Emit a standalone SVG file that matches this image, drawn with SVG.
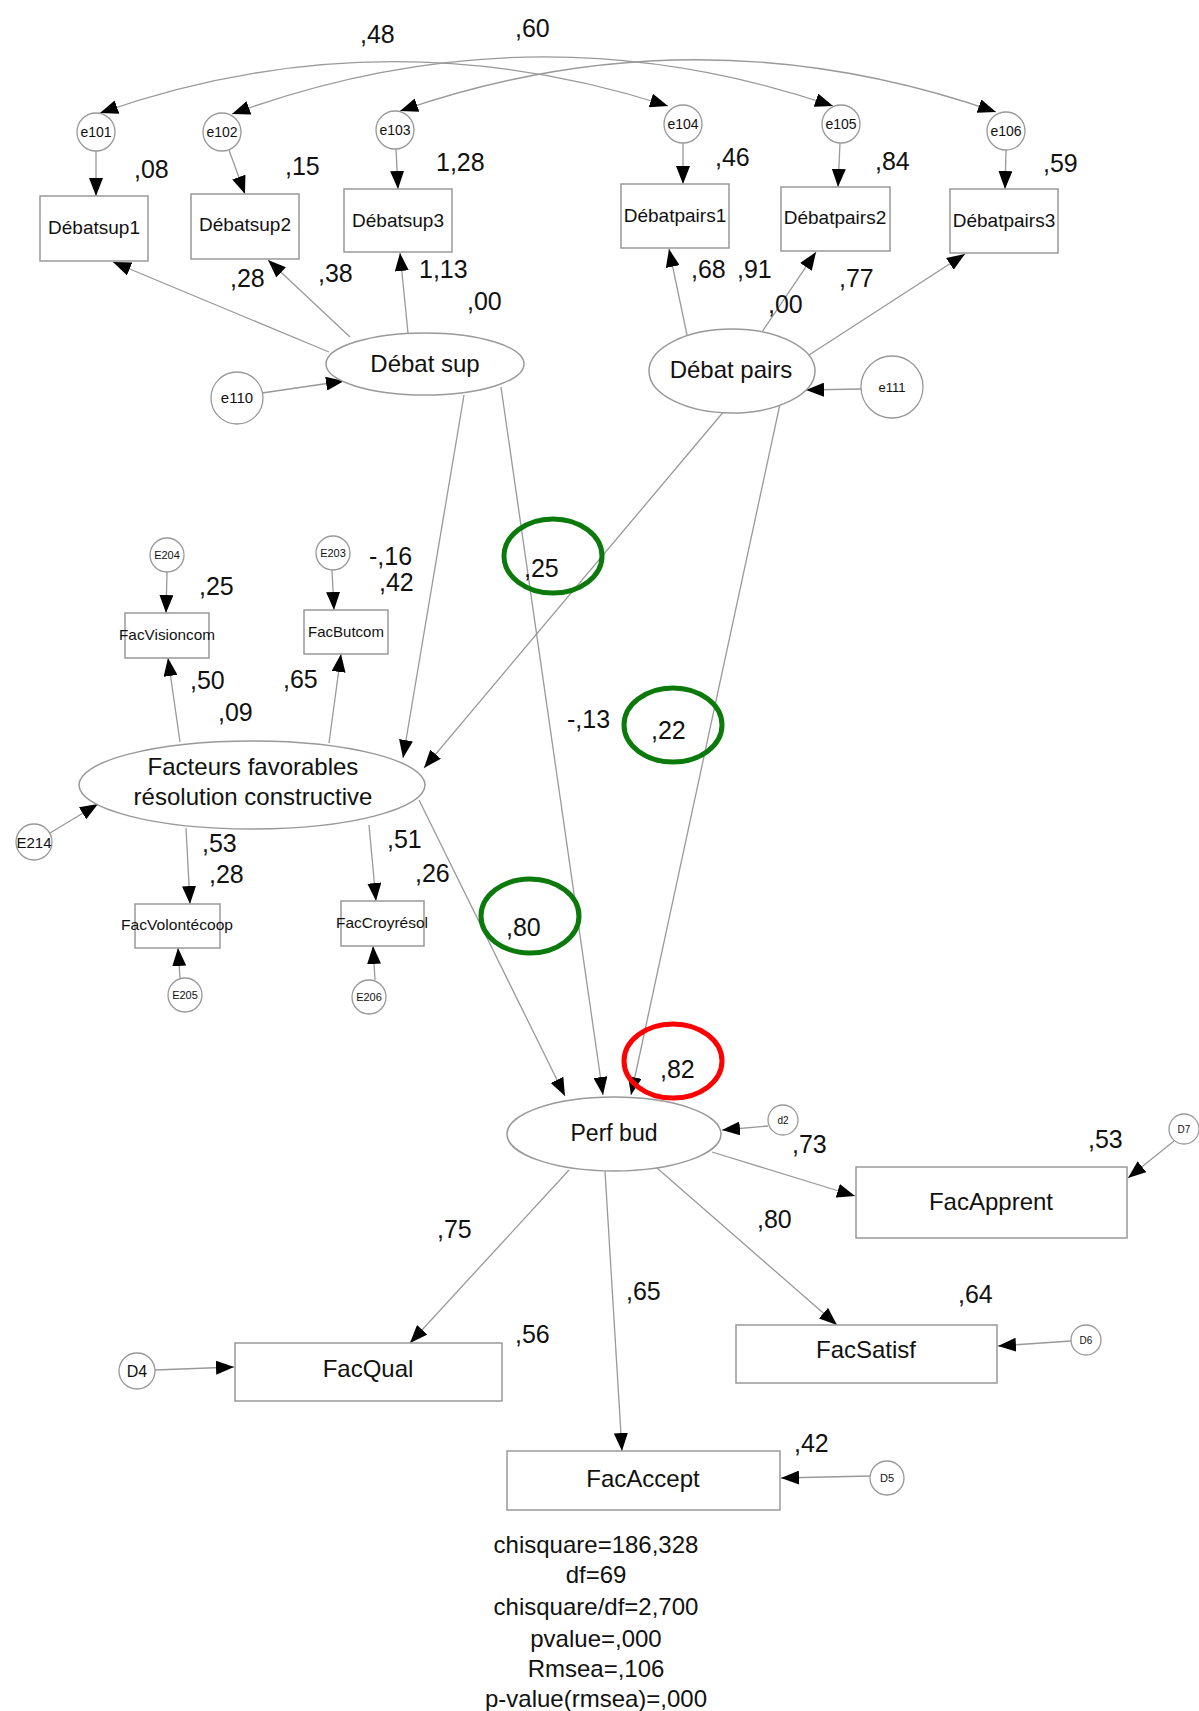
<svg xmlns="http://www.w3.org/2000/svg" width="1199" height="1711" viewBox="0 0 1199 1711">
<style>
text{font-family:"Liberation Sans",Arial,sans-serif;fill:#111}
.lbl{font-size:25px}
.c{fill:#fff;stroke:#999;stroke-width:1.3}
.b{fill:#fff;stroke:#999;stroke-width:1.5}
.e{fill:#fff;stroke:#999;stroke-width:1.5}
.l{fill:none;stroke:#999;stroke-width:1.3;marker-end:url(#ah)}
.cv{fill:none;stroke:#999;stroke-width:1.3;marker-end:url(#ah);marker-start:url(#ah)}
.m{text-anchor:middle}
.hl{fill:none;stroke-width:5}
</style>
<defs>
<marker id="ah" markerUnits="userSpaceOnUse" markerWidth="18" markerHeight="14" refX="18" refY="7" orient="auto-start-reverse" viewBox="0 0 18 14">
<path d="M0,0 L18,7 L0,14 z" fill="#000"/>
</marker>
</defs>
<rect width="1199" height="1711" fill="#fff"/>

<g id="connectors">
<path class="cv" d="M100,113 Q382,14 668,106"/>
<path class="cv" d="M232,114 Q533,4 833,106"/>
<path class="cv" d="M400,111 Q698,8 996,112"/>
<line class="l" x1="96" y1="151" x2="96" y2="196"/>
<line class="l" x1="229" y1="150" x2="245" y2="194"/>
<line class="l" x1="396" y1="149" x2="398" y2="189"/>
<line class="l" x1="683" y1="143" x2="683" y2="184"/>
<line class="l" x1="840" y1="143" x2="838" y2="187"/>
<line class="l" x1="1006" y1="150" x2="1005" y2="189"/>
<line class="l" x1="329" y1="352" x2="113" y2="262"/>
<line class="l" x1="350" y1="337" x2="268" y2="260"/>
<line class="l" x1="408" y1="333" x2="400" y2="253"/>
<line class="l" x1="262" y1="393" x2="344" y2="381"/>
<line class="l" x1="687" y1="335" x2="669" y2="249"/>
<line class="l" x1="762" y1="332" x2="816" y2="252"/>
<line class="l" x1="809" y1="355" x2="965" y2="254"/>
<line class="l" x1="861" y1="389" x2="806" y2="390"/>
<line class="l" x1="167" y1="572" x2="166" y2="613"/>
<line class="l" x1="332" y1="570" x2="334" y2="610"/>
<line class="l" x1="180" y1="742" x2="168" y2="658"/>
<line class="l" x1="329" y1="743" x2="341" y2="654"/>
<line class="l" x1="186" y1="828" x2="190" y2="904"/>
<line class="l" x1="369" y1="825" x2="376" y2="901"/>
<line class="l" x1="180" y1="978" x2="178" y2="948"/>
<line class="l" x1="375" y1="980" x2="373" y2="946"/>
<line class="l" x1="50" y1="833" x2="98" y2="804"/>
<line class="l" x1="464" y1="395" x2="403" y2="758"/>
<line class="l" x1="725" y1="410" x2="424" y2="768"/>
<line class="l" x1="501" y1="387" x2="603" y2="1095"/>
<line class="l" x1="780" y1="404" x2="631" y2="1095"/>
<line class="l" x1="419" y1="800" x2="565" y2="1096"/>
<line class="l" x1="768" y1="1126" x2="722" y2="1130"/>
<line class="l" x1="712" y1="1152" x2="855" y2="1196"/>
<line class="l" x1="1174" y1="1141" x2="1128" y2="1178"/>
<line class="l" x1="569" y1="1170" x2="410" y2="1343"/>
<line class="l" x1="605" y1="1171" x2="622" y2="1451"/>
<line class="l" x1="657" y1="1168" x2="837" y2="1325"/>
<line class="l" x1="155" y1="1370" x2="234" y2="1367"/>
<line class="l" x1="1071" y1="1341" x2="998" y2="1346"/>
<line class="l" x1="870" y1="1476" x2="781" y2="1478"/>
</g>

<g id="e101"><circle class="c" cx="96" cy="132" r="19"/><text class="m" x="96" y="137" font-size="14">e101</text></g>
<g id="e102"><circle class="c" cx="222" cy="132" r="19"/><text class="m" x="222" y="137" font-size="14">e102</text></g>
<g id="e103"><circle class="c" cx="395" cy="130" r="19"/><text class="m" x="395" y="135" font-size="14">e103</text></g>
<g id="e104"><circle class="c" cx="683" cy="124" r="19"/><text class="m" x="683" y="129" font-size="14">e104</text></g>
<g id="e105"><circle class="c" cx="841" cy="124" r="19"/><text class="m" x="841" y="129" font-size="14">e105</text></g>
<g id="e106"><circle class="c" cx="1006" cy="131" r="19"/><text class="m" x="1006" y="136" font-size="14">e106</text></g>

<g id="Debatsup1"><rect class="b" x="40" y="196" width="108" height="65"/><text class="m" x="94" y="234" font-size="19">Débatsup1</text></g>
<g id="Debatsup2"><rect class="b" x="191" y="194" width="108" height="65"/><text class="m" x="245" y="231" font-size="19">Débatsup2</text></g>
<g id="Debatsup3"><rect class="b" x="344" y="189" width="108" height="63"/><text class="m" x="398" y="227" font-size="19">Débatsup3</text></g>
<g id="Debatpairs1"><rect class="b" x="621" y="184" width="108" height="64"/><text class="m" x="675" y="222" font-size="19">Débatpairs1</text></g>
<g id="Debatpairs2"><rect class="b" x="781" y="187" width="109" height="64"/><text class="m" x="835" y="224" font-size="19">Débatpairs2</text></g>
<g id="Debatpairs3"><rect class="b" x="950" y="189" width="108" height="64"/><text class="m" x="1004" y="227" font-size="19">Débatpairs3</text></g>

<g id="DebatSup"><ellipse class="e" cx="425" cy="364" rx="99" ry="31"/><text class="m" x="425" y="372" font-size="24">Débat sup</text></g>
<g id="DebatPairs"><ellipse class="e" cx="732" cy="371" rx="83" ry="42"/><text class="m" x="731" y="378" font-size="24">Débat pairs</text></g>
<g id="e110"><circle class="c" cx="237" cy="398" r="26"/><text class="m" x="237" y="403" font-size="15">e110</text></g>
<g id="e111"><circle class="c" cx="892" cy="387" r="31"/><text class="m" x="892" y="392" font-size="13">e111</text></g>

<g id="E204"><circle class="c" cx="167" cy="555" r="17"/><text class="m" x="167" y="559" font-size="11">E204</text></g>
<g id="E203"><circle class="c" cx="333" cy="553" r="17"/><text class="m" x="333" y="557" font-size="11">E203</text></g>
<g id="FacVisioncom"><rect class="b" x="125" y="613" width="84" height="45"/><text class="m" x="167" y="640" font-size="15" textLength="96" lengthAdjust="spacingAndGlyphs">FacVisioncom</text></g>
<g id="FacButcom"><rect class="b" x="304" y="610" width="84" height="44"/><text class="m" x="346" y="637" font-size="15">FacButcom</text></g>
<g id="Facteurs"><ellipse class="e" cx="252" cy="785" rx="173" ry="44"/><text class="m" x="253" y="775" font-size="24">Facteurs favorables</text><text class="m" x="253" y="805" font-size="24">résolution constructive</text></g>
<g id="E214"><circle class="c" cx="34" cy="842" r="18"/><text class="m" x="34" y="848" font-size="15">E214</text></g>
<g id="FacVolontecoop"><rect class="b" x="135" y="904" width="85" height="44"/><text class="m" x="177" y="930" font-size="15" textLength="112" lengthAdjust="spacingAndGlyphs">FacVolontécoop</text></g>
<g id="FacCroyresol"><rect class="b" x="341" y="901" width="83" height="45"/><text class="m" x="382" y="928" font-size="15" textLength="92" lengthAdjust="spacingAndGlyphs">FacCroyrésol</text></g>
<g id="E205"><circle class="c" cx="185" cy="995" r="17"/><text class="m" x="185" y="999" font-size="11">E205</text></g>
<g id="E206"><circle class="c" cx="369" cy="997" r="17"/><text class="m" x="369" y="1001" font-size="11">E206</text></g>

<g id="PerfBud"><ellipse class="e" cx="614" cy="1134" rx="107" ry="37"/><text class="m" x="614" y="1141" font-size="23">Perf bud</text></g>
<g id="d2"><circle class="c" cx="783" cy="1120" r="15"/><text class="m" x="783" y="1124" font-size="10">d2</text></g>
<g id="FacApprent"><rect class="b" x="856" y="1167" width="271" height="71"/><text class="m" x="991" y="1210" font-size="24">FacApprent</text></g>
<g id="D7"><circle class="c" cx="1184" cy="1129" r="15"/><text class="m" x="1184" y="1133" font-size="10">D7</text></g>
<g id="FacQual"><rect class="b" x="235" y="1343" width="267" height="58"/><text class="m" x="368" y="1377" font-size="24">FacQual</text></g>
<g id="D4"><circle class="c" cx="137" cy="1371" r="18"/><text class="m" x="137" y="1377" font-size="16">D4</text></g>
<g id="FacSatisf"><rect class="b" x="736" y="1325" width="261" height="58"/><text class="m" x="866" y="1358" font-size="24">FacSatisf</text></g>
<g id="D6"><circle class="c" cx="1086" cy="1340" r="15"/><text class="m" x="1086" y="1344" font-size="10">D6</text></g>
<g id="FacAccept"><rect class="b" x="507" y="1451" width="273" height="59"/><text class="m" x="643" y="1487" font-size="24">FacAccept</text></g>
<g id="D5"><circle class="c" cx="887" cy="1478" r="17"/><text class="m" x="887" y="1482" font-size="11">D5</text></g>

<g id="labels" class="lbl">
<text x="360" y="43">,48</text>
<text x="515" y="37">,60</text>
<text x="134" y="178">,08</text>
<text x="285" y="175">,15</text>
<text x="436" y="171">1,28</text>
<text x="230" y="287">,28</text>
<text x="318" y="282">,38</text>
<text x="419" y="278">1,13</text>
<text x="467" y="310">,00</text>
<text x="715" y="166">,46</text>
<text x="875" y="170">,84</text>
<text x="1043" y="172">,59</text>
<text x="691" y="278">,68</text>
<text x="737" y="278">,91</text>
<text x="768" y="313">,00</text>
<text x="839" y="287">,77</text>
<text x="199" y="595">,25</text>
<text x="369" y="565">-,16</text>
<text x="379" y="591">,42</text>
<text x="190" y="689">,50</text>
<text x="283" y="688">,65</text>
<text x="218" y="721">,09</text>
<text x="202" y="852">,53</text>
<text x="209" y="883">,28</text>
<text x="387" y="848">,51</text>
<text x="415" y="882">,26</text>
<text x="524" y="577">,25</text>
<text x="567" y="728">-,13</text>
<text x="651" y="739">,22</text>
<text x="506" y="936">,80</text>
<text x="660" y="1078">,82</text>
<text x="792" y="1153">,73</text>
<text x="1088" y="1148">,53</text>
<text x="437" y="1238">,75</text>
<text x="757" y="1228">,80</text>
<text x="626" y="1300">,65</text>
<text x="515" y="1343">,56</text>
<text x="958" y="1303">,64</text>
<text x="794" y="1452">,42</text>
</g>

<g id="highlights">
<ellipse class="hl" stroke="#0b7a0b" cx="553" cy="556" rx="49" ry="37"/>
<ellipse class="hl" stroke="#0b7a0b" cx="673" cy="725" rx="49" ry="37"/>
<ellipse class="hl" stroke="#0b7a0b" cx="530" cy="916" rx="49" ry="37"/>
<ellipse class="hl" stroke="#ff0000" cx="673" cy="1061" rx="49" ry="37"/>
</g>

<g id="fit" font-size="24" text-anchor="middle">
<text x="596" y="1553">chisquare=186,328</text>
<text x="596" y="1583">df=69</text>
<text x="596" y="1615">chisquare/df=2,700</text>
<text x="596" y="1647">pvalue=,000</text>
<text x="596" y="1677">Rmsea=,106</text>
<text x="596" y="1707">p-value(rmsea)=,000</text>
</g>
</svg>
